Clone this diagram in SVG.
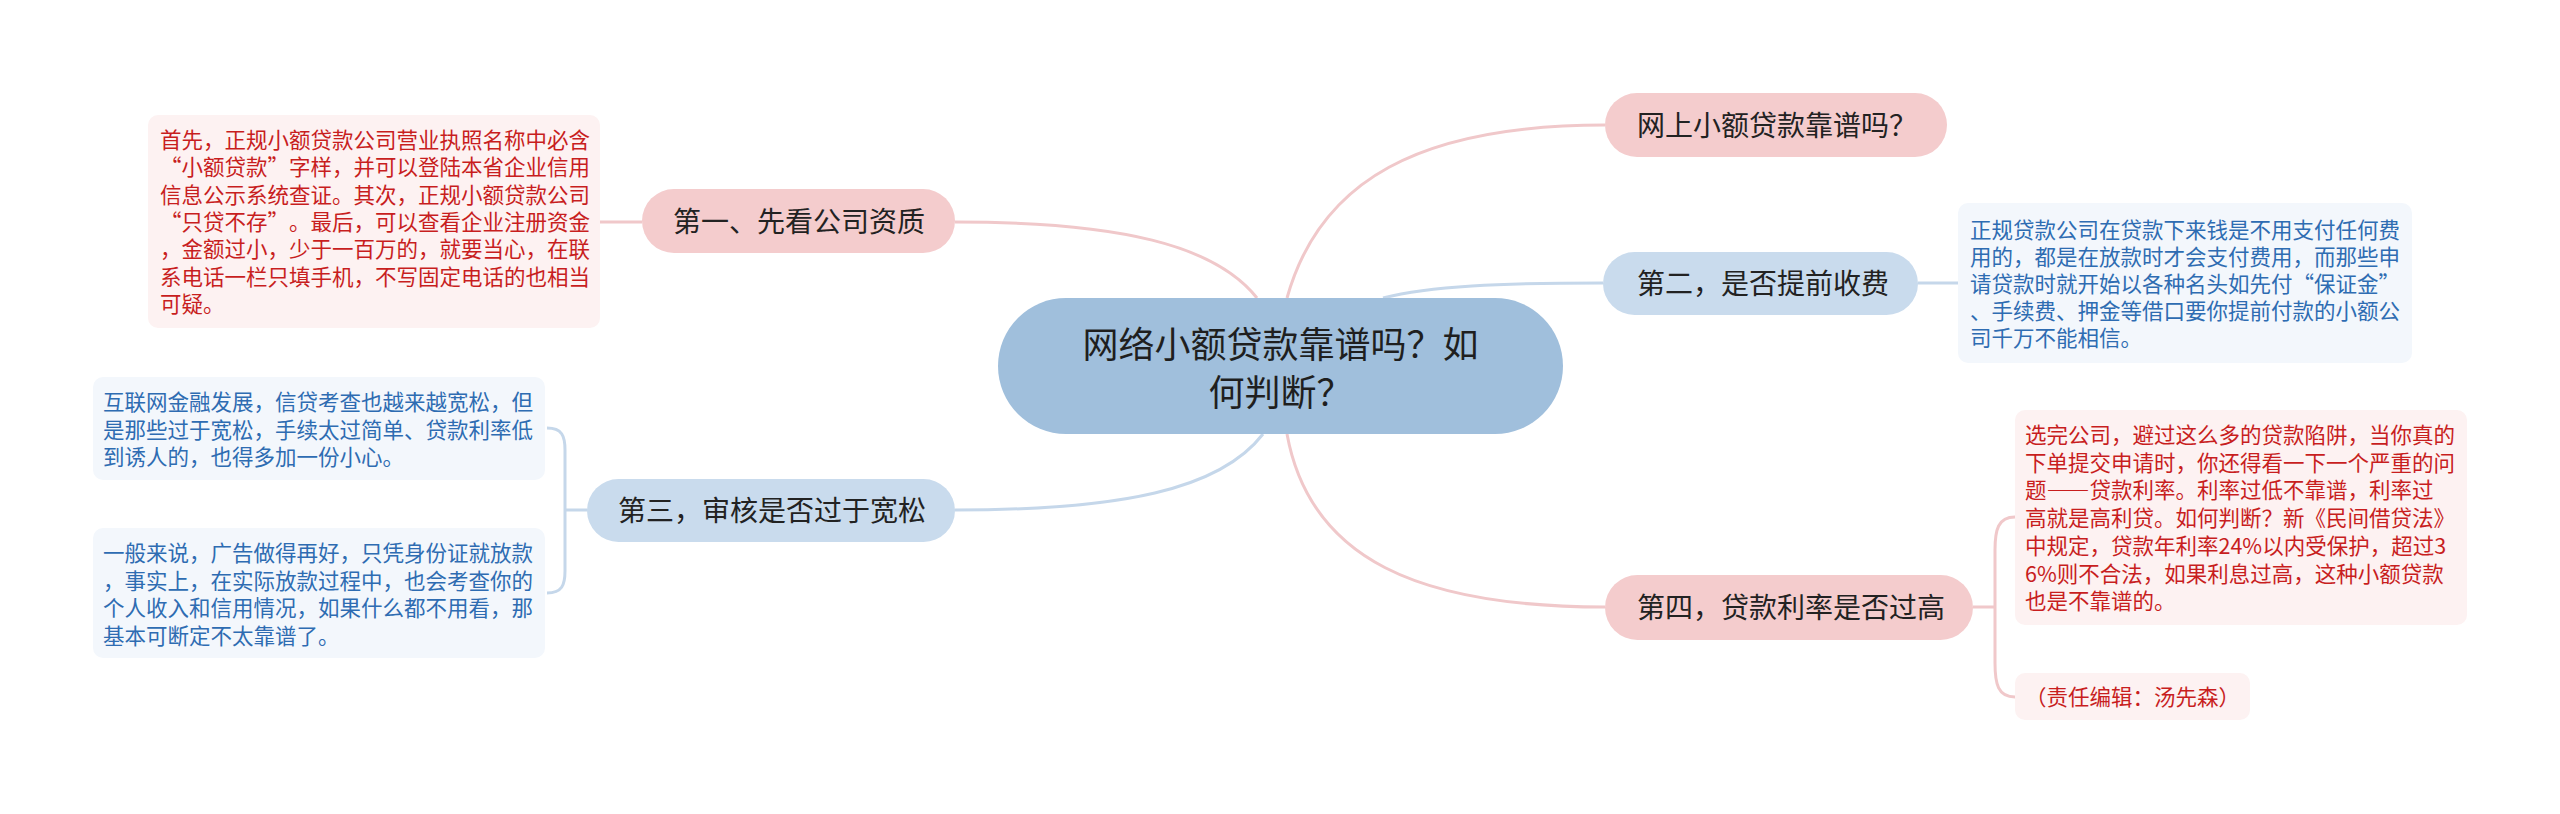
<svg xmlns="http://www.w3.org/2000/svg" width="2560" height="814" viewBox="0 0 2560 814" xml:lang="zh-CN">
<style>
text{font-family:"Noto Sans CJK SC","Noto Sans",sans-serif;text-spacing-trim:space-all;}
.fw{font-feature-settings:"fwid" 1;}
.pk{fill:#f4cccd;}
.bl{fill:#c9dbed;}
.ctr{fill:#a0bfdc;}
.t1{font-size:28px;fill:#222;}
.t0{font-size:36px;fill:#1f1f1f;text-anchor:middle;}
.dr{fill:#fdf2f2;}
.db{fill:#f3f7fc;}
.tr{font-size:21.5px;fill:#c81e1e;}
.tb{font-size:21.5px;fill:#2e6cb2;}
.cp{fill:none;stroke:#f0c8ca;stroke-width:3;}
.cb{fill:none;stroke:#c5d7ea;stroke-width:3;}
</style>
<rect width="2560" height="814" fill="#ffffff"/>
<g id="connectors">
<path class="cp" d="M1257,298 C1215,245 1120,222 955,222"/>
<path class="cp" d="M1287,298 C1320,180 1420,125 1605,125"/>
<path class="cb" d="M1383,298 C1430,286 1500,283 1603,283"/>
<path class="cb" d="M1263,434 C1220,490 1120,510 955,510"/>
<path class="cp" d="M1287,434 C1310,560 1420,607 1605,607"/>
<path class="cp" d="M642,222 H600"/>
<path class="cb" d="M1918,283 H1958"/>
<path class="cb" d="M587,510 H565 M547,428 C562,428 565,436 565,450 V571 C565,585 562,593 547,593"/>
<path class="cp" d="M1973,607 H1995 M2015,517 C1998,517 1995,530 1995,550 V663 C1995,684 1998,697 2015,697"/>
</g>
<g id="center">
<rect class="ctr" x="998" y="298" width="565" height="136" rx="68"/>
<text class="t0" x="1280.5" y="358">网络小额贷款靠谱吗？如</text>
<text class="t0" x="1280.5" y="406">何判断？</text>
</g>
<g id="n1">
<rect class="pk" x="642" y="189" width="313" height="64" rx="32"/>
<text class="t1" x="673" y="232">第一、先看公司资质</text>
</g>
<g id="n1d">
<rect class="dr" x="148" y="115" width="452" height="213" rx="10"/>
<text class="tr" x="160" y="148">首先，正规小额贷款公司营业执照名称中必含</text>
<text class="tr" x="160" y="175.3"><tspan class="fw">“</tspan>小额贷款<tspan class="fw">”</tspan>字样，并可以登陆本省企业信用</text>
<text class="tr" x="160" y="202.6">信息公示系统查证。其次，正规小额贷款公司</text>
<text class="tr" x="160" y="229.9"><tspan class="fw">“</tspan>只贷不存<tspan class="fw">”</tspan>。最后，可以查看企业注册资金</text>
<text class="tr" x="160" y="257.2">，金额过小，少于一百万的，就要当心，在联</text>
<text class="tr" x="160" y="284.5">系电话一栏只填手机，不写固定电话的也相当</text>
<text class="tr" x="160" y="311.8">可疑。</text>
</g>
<g id="n0">
<rect class="pk" x="1605" y="93" width="342" height="64" rx="32"/>
<text class="t1" x="1637" y="136">网上小额贷款靠谱吗？</text>
</g>
<g id="n2">
<rect class="bl" x="1603" y="252" width="315" height="63" rx="31.5"/>
<text class="t1" x="1637" y="294">第二，是否提前收费</text>
</g>
<g id="n2d">
<rect class="db" x="1958" y="203" width="454" height="160" rx="10"/>
<text class="tb" x="1970" y="238">正规贷款公司在贷款下来钱是不用支付任何费</text>
<text class="tb" x="1970" y="265">用的，都是在放款时才会支付费用，而那些申</text>
<text class="tb" x="1970" y="292">请贷款时就开始以各种名头如先付<tspan class="fw">“</tspan>保证金<tspan class="fw">”</tspan></text>
<text class="tb" x="1970" y="319">、手续费、押金等借口要你提前付款的小额公</text>
<text class="tb" x="1970" y="346">司千万不能相信。</text>
</g>
<g id="n3">
<rect class="bl" x="587" y="479" width="368" height="63" rx="31.5"/>
<text class="t1" x="618" y="521">第三，审核是否过于宽松</text>
</g>
<g id="n3a">
<rect class="db" x="93" y="377" width="452" height="103" rx="10"/>
<text class="tb" x="103" y="410">互联网金融发展，信贷考查也越来越宽松，但</text>
<text class="tb" x="103" y="437.5">是那些过于宽松，手续太过简单、贷款利率低</text>
<text class="tb" x="103" y="465">到诱人的，也得多加一份小心。</text>
</g>
<g id="n3b">
<rect class="db" x="93" y="528" width="452" height="130" rx="10"/>
<text class="tb" x="103" y="561">一般来说，广告做得再好，只凭身份证就放款</text>
<text class="tb" x="103" y="588.5">，事实上，在实际放款过程中，也会考查你的</text>
<text class="tb" x="103" y="616">个人收入和信用情况，如果什么都不用看，那</text>
<text class="tb" x="103" y="643.5">基本可断定不太靠谱了。</text>
</g>
<g id="n4">
<rect class="pk" x="1605" y="575" width="368" height="65" rx="32.5"/>
<text class="t1" x="1637" y="618">第四，贷款利率是否过高</text>
</g>
<g id="n4a">
<rect class="dr" x="2015" y="410" width="452" height="215" rx="10"/>
<text class="tr" x="2025" y="443">选完公司，避过这么多的贷款陷阱，当你真的</text>
<text class="tr" x="2025" y="470.7">下单提交申请时，你还得看一下一个严重的问</text>
<text class="tr" x="2025" y="498.4">题——贷款利率。利率过低不靠谱，利率过</text>
<text class="tr" x="2025" y="526.1">高就是高利贷。如何判断？新《民间借贷法》</text>
<text class="tr" x="2025" y="553.8">中规定，贷款年利率24%以内受保护，超过3</text>
<text class="tr" x="2025" y="581.5">6%则不合法，如果利息过高，这种小额贷款</text>
<text class="tr" x="2025" y="609.2">也是不靠谱的。</text>
</g>
<g id="n4b">
<rect class="dr" x="2015" y="673" width="235" height="47" rx="10"/>
<text class="tr" x="2025" y="705">（责任编辑：汤先森）</text>
</g>
</svg>
